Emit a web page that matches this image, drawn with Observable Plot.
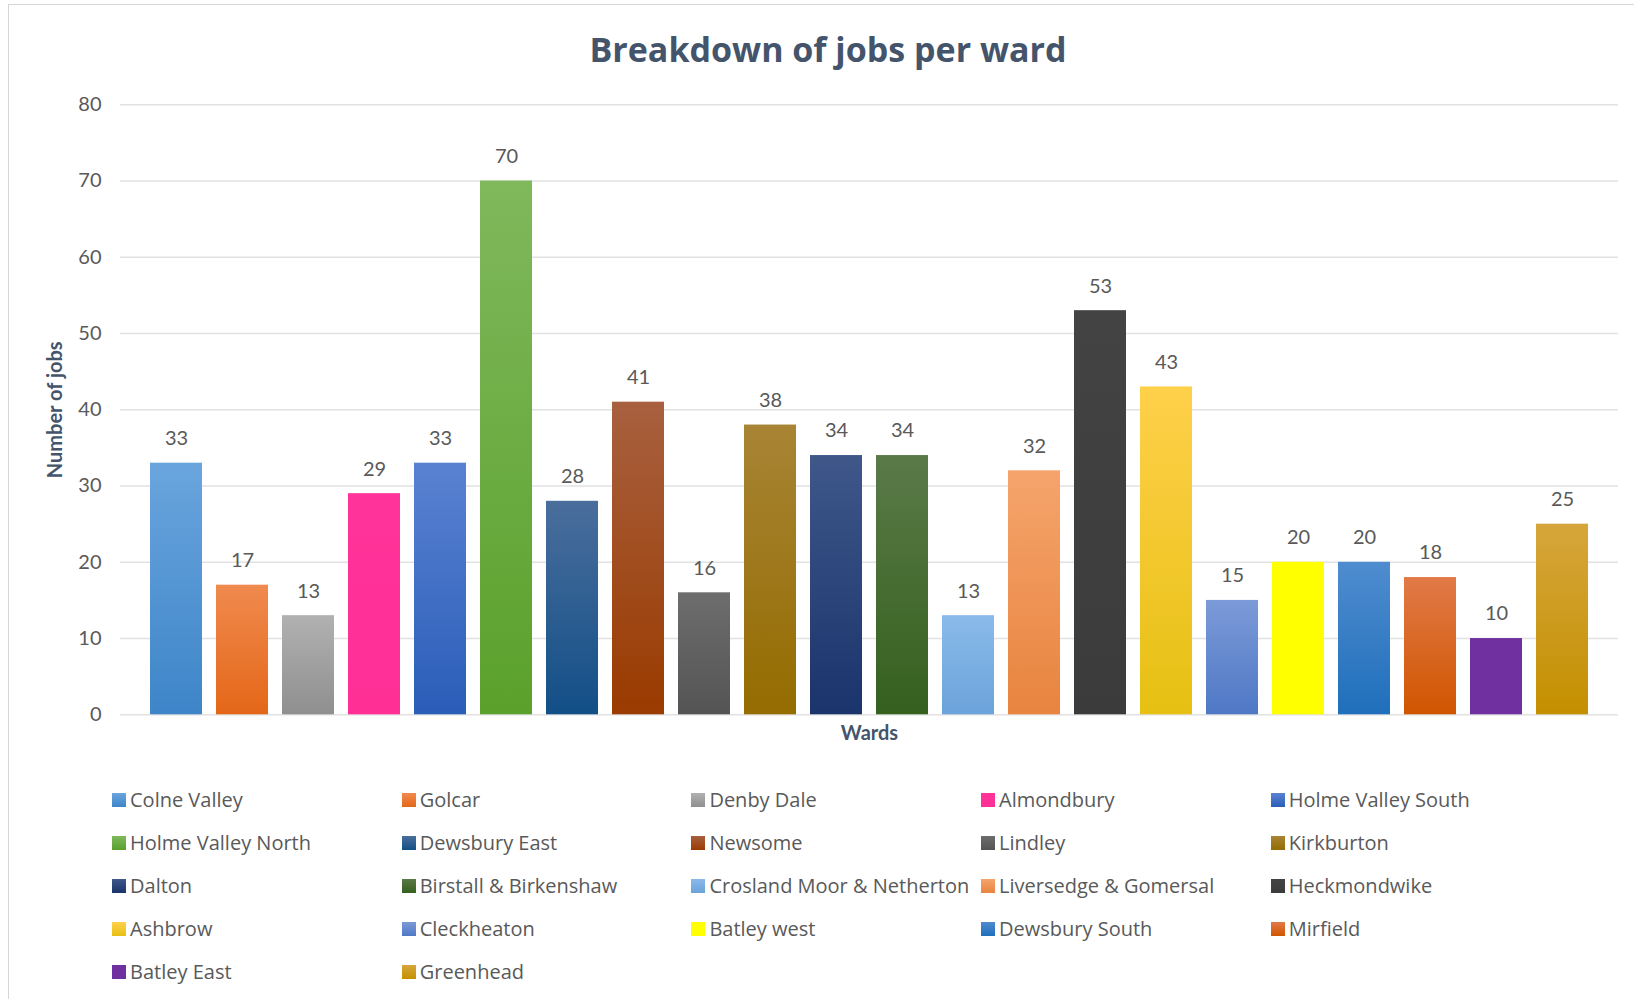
<!DOCTYPE html>
<html><head><meta charset="utf-8">
<script src="https://cdn.jsdelivr.net/npm/d3@7"></script>
<script src="https://cdn.jsdelivr.net/npm/@observablehq/plot@0.6"></script>
<style>
body{margin:0;background:#fff;font-family:Lato,"Open Sans",sans-serif;}
#wrap{position:relative;width:1634px;height:999px;overflow:hidden;background:#fff;}
#frame{position:absolute;left:8px;top:4px;width:2000px;height:2000px;border-left:1.5px solid #d6d6d6;border-top:1.5px solid #d6d6d6;}
#title{position:absolute;left:0;top:29px;width:1656px;height:40px;line-height:40px;text-align:center;font-family:"Open Sans",Lato,sans-serif;font-size:34px;font-weight:bold;color:#44546a;}
#chart{position:absolute;left:0;top:80px;}
#legend{position:absolute;left:112px;top:778px;display:grid;grid-template-columns:repeat(5,289.7px);grid-auto-rows:43px;}
.item{display:flex;align-items:center;font-family:"Open Sans",Lato,sans-serif;font-size:20px;color:#595959;white-space:nowrap;}
.sw{width:14px;height:14px;margin-right:4px;flex:none;}
</style>
</head><body>
<div id="wrap">
  <div id="frame"></div>
  <div id="title">Breakdown of jobs per ward</div>
  <div id="chart"></div>
  <div id="legend"></div>
</div>
<script>
const wards = ["Colne Valley","Golcar","Denby Dale","Almondbury","Holme Valley South","Holme Valley North","Dewsbury East","Newsome","Lindley","Kirkburton","Dalton","Birstall & Birkenshaw","Crosland Moor & Netherton","Liversedge & Gomersal","Heckmondwike","Ashbrow","Cleckheaton","Batley west","Dewsbury South","Mirfield","Batley East","Greenhead"];
const jobs = [33,17,13,29,33,70,28,41,16,38,34,34,13,32,53,43,15,20,20,18,10,25];
const topColors = ["#6aa5de","#f08a4f","#b1b1b1","#ff3399","#5a82d2","#80b85c","#4a6e9c","#a8603f","#6d6d6d","#a88435","#3f5789","#5a7a48","#8abaea","#f5a46c","#434343","#ffd04a","#7c9ad8","#ffff00","#4f8ccf","#e17a48","#7030a0","#d6a63b"];
const bottomColors = ["#3d85c8","#e46718","#8f8f8f","#ff2f96","#2a5db8","#5aa12b","#124f87","#9a3b00","#545454","#946c00","#1a346c","#35601e","#6ba3da","#e8843f","#3b3b3b","#e6c012","#4f78c5","#ffff00","#1f6fbb","#d05500","#7030a0","#c49000"];
const yTicks = [0,10,20,30,40,50,60,70,80];
const xTitle = "Wards";
const yTitle = "Number of jobs";

const data = wards.map((w,i)=>({ward:w, jobs:jobs[i], fill:`url(#g${i})`}));

const svg = Plot.plot({
  width:1634, height:680,
  marginTop:24.3, marginBottom:45.7, marginLeft:120, marginRight:16,
  style:{fontFamily:"Lato, 'Open Sans', sans-serif", fontSize:"20px", color:"#595959", background:"transparent"},
  x:{domain:wards, insetLeft:21, insetRight:21, paddingInner:0.207, paddingOuter:0.1035, axis:null},
  y:{domain:[0,80], axis:null},
  color:{type:"identity"},
  marks:[
    Plot.gridY(yTicks,{stroke:"#e2e2e2", strokeOpacity:1, strokeWidth:1.5}),
    Plot.axisY(yTicks,{tickSize:0, tickPadding:19, label:null, fill:"#595959", fontSize:20}),
    Plot.barY(data,{x:"ward", y:"jobs", fill:"fill"}),
    Plot.text(data,{x:"ward", y:"jobs", text:d=>String(d.jobs), dy:-24.5, fontSize:20, fill:"#595959"}),
    Plot.text([xTitle],{frameAnchor:"bottom", dy:18.7, lineAnchor:"middle", textAnchor:"middle", fontWeight:"bold", fontSize:20, fill:"#44546a"}),
    Plot.text([yTitle],{frameAnchor:"left", dx:-65, rotate:-90, lineAnchor:"middle", textAnchor:"middle", fontWeight:"bold", fontSize:20, fill:"#44546a"})
  ]
});

const defs = d3.select(svg).insert("defs",":first-child");
wards.forEach((w,i)=>{
  const g = defs.append("linearGradient").attr("id",`g${i}`).attr("x1",0).attr("y1",0).attr("x2",0).attr("y2",1);
  g.append("stop").attr("offset","0%").attr("stop-color",topColors[i]);
  g.append("stop").attr("offset","100%").attr("stop-color",bottomColors[i]);
});
document.getElementById("chart").appendChild(svg);

const legend = d3.select("#legend");
wards.forEach((w,i)=>{
  const it = legend.append("div").attr("class","item");
  it.append("div").attr("class","sw").style("background",`linear-gradient(${topColors[i]}, ${bottomColors[i]})`);
  it.append("span").text(w);
});
</script>
</body></html>
